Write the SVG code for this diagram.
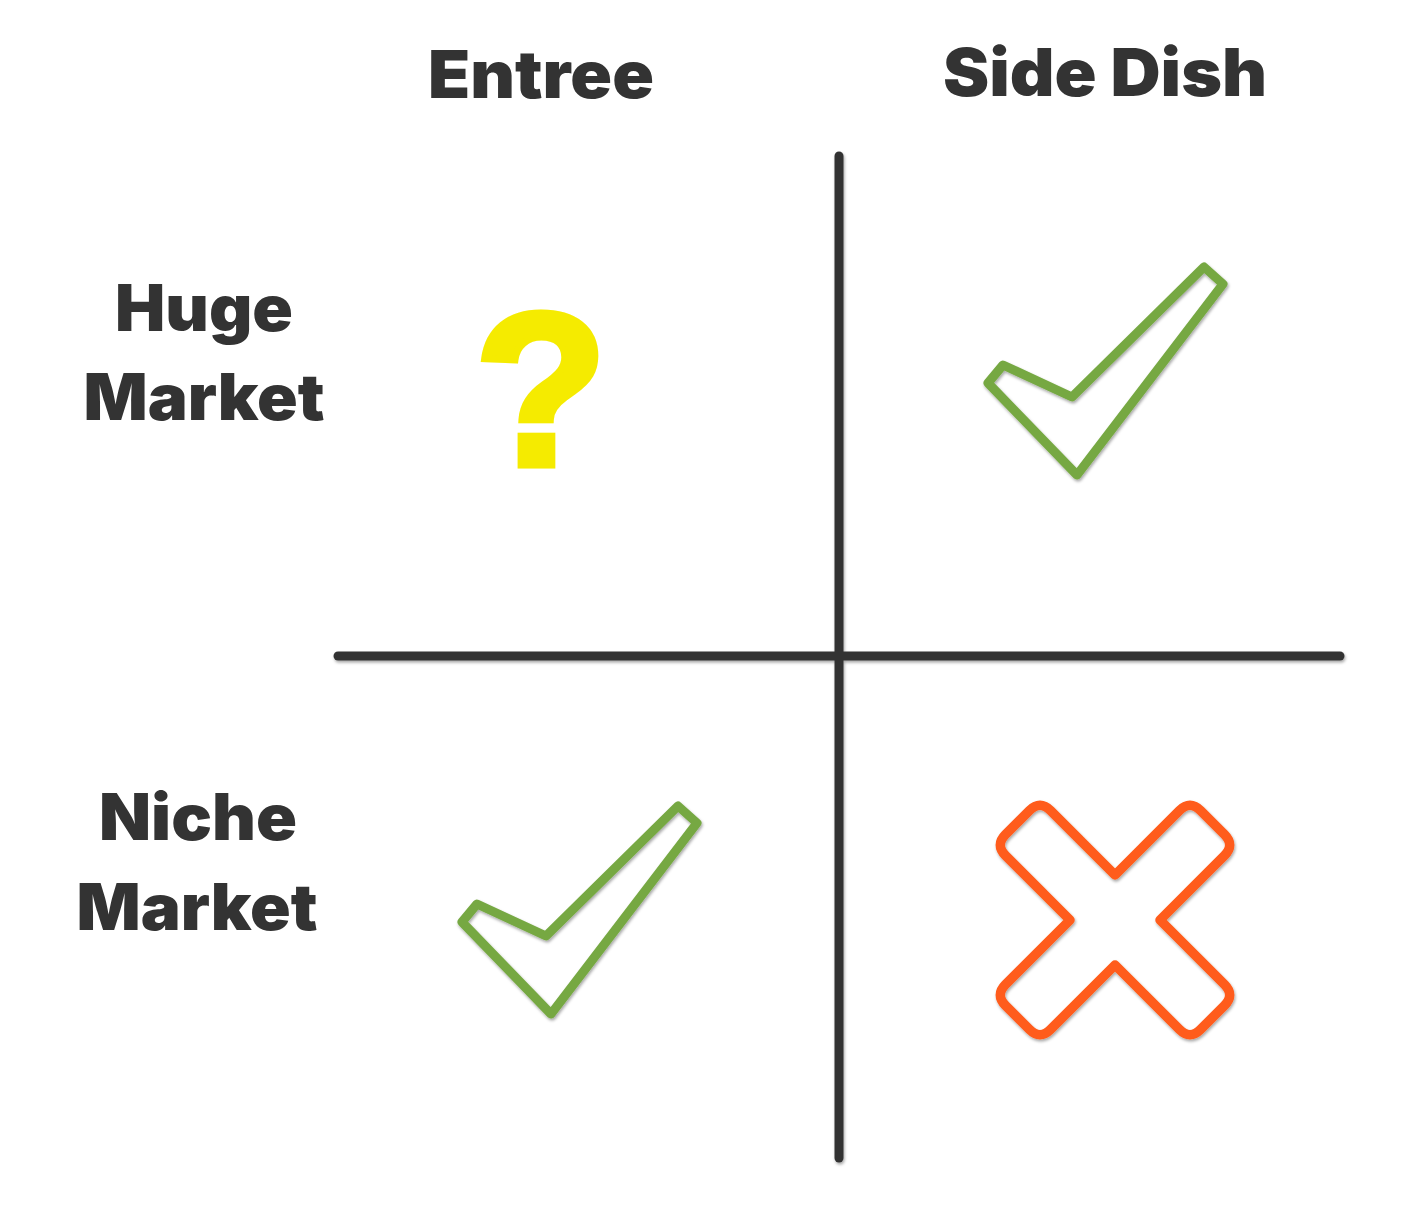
<svg xmlns="http://www.w3.org/2000/svg" width="1427" height="1214" viewBox="0 0 1427 1214">
<defs>
<style>
.lbl{font-family:Inter,"Liberation Sans",sans-serif;font-weight:900;fill:#333333;text-anchor:middle}
.col{font-size:66px}
.row{font-size:64px}
.axis{stroke:#333333;stroke-width:9;stroke-linecap:round;fill:none}
.ok{fill:none;stroke:#76A843;stroke-width:9;stroke-linejoin:round}
.no{fill:none;stroke:#FF5B1A;stroke-width:9.5;stroke-linejoin:round}
</style>
<filter id="sh" x="-10%" y="-10%" width="120%" height="120%">
<feDropShadow dx="1" dy="2" stdDeviation="1.5" flood-color="#000" flood-opacity="0.35"/>
</filter>
<path id="check" d="M1204,267 L1223,284 L1077,475 L988,383 L1003,365 L1072,397 Z"/>
</defs>
<rect width="1427" height="1214" fill="#ffffff"/>
<g id="axes" filter="url(#sh)">
<line class="axis" x1="839" y1="156" x2="839" y2="1158"/>
<line class="axis" x1="338" y1="656" x2="1340" y2="656"/>
</g>
<g id="col-entree"><text class="lbl col" x="541" y="98" textLength="226" lengthAdjust="spacingAndGlyphs">Entree</text></g>
<g id="col-side"><text class="lbl col" x="1105" y="96" textLength="324" lengthAdjust="spacingAndGlyphs">Side Dish</text></g>
<g id="row-huge"><text class="lbl row" x="204" y="331" textLength="178" lengthAdjust="spacingAndGlyphs">Huge</text><text class="lbl row" x="204" y="420" textLength="241" lengthAdjust="spacingAndGlyphs">Market</text></g>
<g id="row-niche"><text class="lbl row" x="198" y="840" textLength="198" lengthAdjust="spacingAndGlyphs">Niche</text><text class="lbl row" x="197" y="930" textLength="241" lengthAdjust="spacingAndGlyphs">Market</text></g>
<g id="q-entree-huge"><text x="541" y="465" font-family="'Liberation Sans',Arial,sans-serif" font-weight="700" font-size="217" fill="#F5EB00" stroke="#F5EB00" stroke-width="7" stroke-linejoin="miter" text-anchor="middle">?</text></g>
<g id="check-side-huge" filter="url(#sh)"><use href="#check" class="ok"/></g>
<g id="check-entree-niche" filter="url(#sh)"><use href="#check" class="ok" transform="translate(-526,539)"/></g>
<g id="x-side-niche" filter="url(#sh)" transform="translate(1115,920)">
<path class="no" d="M0,-45 L64.4,-109.4 Q75,-120 85.6,-109.4 L109.4,-85.6 Q120,-75 109.4,-64.4 L45,0 L109.4,64.4 Q120,75 109.4,85.6 L85.6,109.4 Q75,120 64.4,109.4 L0,45 L-64.4,109.4 Q-75,120 -85.6,109.4 L-109.4,85.6 Q-120,75 -109.4,64.4 L-45,0 L-109.4,-64.4 Q-120,-75 -109.4,-85.6 L-85.6,-109.4 Q-75,-120 -64.4,-109.4 Z"/>
</g>
</svg>
